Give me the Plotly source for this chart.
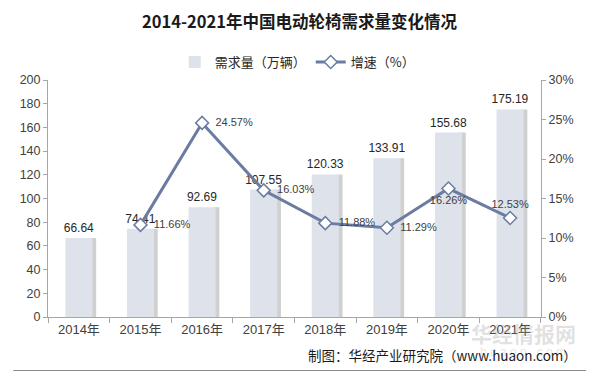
import plotly.graph_objects as go

years = ["2014年", "2015年", "2016年", "2017年", "2018年", "2019年", "2020年", "2021年"]
demand = [66.64, 74.41, 92.69, 107.55, 120.33, 133.91, 155.68, 175.19]
growth = [None, 11.66, 24.57, 16.03, 11.88, 11.29, 16.26, 12.53]
growth_pos = ["middle right", "middle right", "middle right", "middle right",
              "middle right", "middle right", "bottom center", "top center"]

# page body has an 8px margin; figure sized so it ends at the window edge
OFF = 8
W, H = 594 - OFF, 373 - OFF
L, R, T, B = 35, 53, 72, 56
pw, ph = W - L - R, H - T - B


def px(xw):
    return (xw - OFF - L) / pw


def py(yw):
    return (H - B - (yw - OFF)) / ph


def growth_label(g, pos):
    if g is None:
        return ""
    pad = "  " if pos == "middle right" else ""
    return f"{pad}{g:.2f}%"


fig = go.Figure()
bw = 0.44
# shadow
fig.add_trace(go.Bar(x=years, y=demand, width=0.1, offset=bw / 2 - 0.04,
                     marker=dict(color="rgba(150,150,150,0.45)", line=dict(width=0)),
                     hoverinfo="skip", showlegend=False))
fig.add_trace(go.Bar(x=years, y=demand, width=bw, offset=-bw / 2, name="需求量（万辆）",
                     marker=dict(color="#dee2eb", line=dict(width=0)),
                     text=[f"{v:.2f}" for v in demand], textposition="outside",
                     constraintext="none",
                     textfont=dict(size=12, color="#262626", family="Liberation Sans"),
                     cliponaxis=False))
fig.add_trace(go.Scatter(x=years, y=growth, yaxis="y2", name="增速（%）",
                         mode="lines+markers+text",
                         line=dict(color="#6a7ca1", width=3),
                         marker=dict(symbol="diamond", size=10, color="white",
                                     line=dict(color="#6a7ca1", width=1.5)),
                         text=[growth_label(g, p) for g, p in zip(growth, growth_pos)],
                         textposition=growth_pos,
                         textfont=dict(size=11, color="#404040", family="Liberation Sans"),
                         cliponaxis=False))

fig.update_layout(
    width=W, height=H,
    margin=dict(l=L, r=R, t=T, b=B),
    paper_bgcolor="white", plot_bgcolor="white",
    barmode="overlay",
    font=dict(family="Liberation Sans, Noto Sans CJK SC", color="#404040", size=12),
    title=dict(text="<b>2014-2021年中国电动轮椅需求量变化情况</b>", x=px(297), xref="paper",
               xanchor="center", y=1 - (22 - OFF) / H, yanchor="middle",
               font=dict(family="Noto Sans CJK SC", size=16.5, color="#1a1a1a")),
    legend=dict(orientation="h", x=px(171), xanchor="left", y=py(62), yanchor="middle",
                font=dict(family="Noto Sans CJK SC", size=13, color="#262626"),
                itemwidth=30, traceorder="normal", tracegroupgap=0),
    xaxis=dict(showline=True, linecolor="#a6a6a6", ticks="outside", tickson="boundaries",
               tickcolor="#a6a6a6", ticklen=5, showgrid=False,
               tickfont=dict(family="Liberation Sans, Noto Sans CJK SC", size=13, color="#404040")),
    yaxis=dict(range=[0, 200], dtick=20, showline=True, linecolor="#a6a6a6", ticks="outside",
               tickcolor="#a6a6a6", ticklen=4, showgrid=False, zeroline=False,
               tickfont=dict(size=12.5, color="#404040")),
    yaxis2=dict(range=[0, 30], dtick=5, overlaying="y", side="right", ticksuffix="%",
                showline=True, linecolor="#a6a6a6", ticks="outside", tickcolor="#a6a6a6",
                ticklen=4, showgrid=False, zeroline=False,
                tickfont=dict(size=12.5, color="#404040")),
)

# watermark
fig.add_annotation(text="<b>华经情报网</b>", xref="paper", yref="paper",
                   x=px(523), y=py(333), xanchor="center", yanchor="middle",
                   showarrow=False, font=dict(family="Noto Sans CJK SC", size=21, color="rgba(160,160,160,0.33)"))
fig.add_annotation(text="h u a o n . c o m", xref="paper", yref="paper",
                   x=px(523), y=py(352), xanchor="center", yanchor="middle",
                   showarrow=False, font=dict(family="Liberation Sans", size=12, color="rgba(170,170,170,0.3)"))
# source
fig.add_annotation(text="制图：华经产业研究院（www.huaon.com）", xref="paper", yref="paper",
                   x=px(579), y=py(355), xanchor="right", yanchor="middle",
                   showarrow=False, font=dict(family="Noto Sans CJK SC, Liberation Sans", size=13.5, color="#1a1a1a"))
# border (right and bottom edges visible in the window)
fig.add_shape(type="line", xref="paper", yref="paper",
              x0=px(591.5), x1=px(591.5), y0=py(370.5), y1=py(OFF),
              line=dict(color="#8c8c8c", width=1), layer="below")
fig.add_shape(type="line", xref="paper", yref="paper",
              x0=px(OFF), x1=px(591.5), y0=py(370.5), y1=py(370.5),
              line=dict(color="#8c8c8c", width=1), layer="below")

fig.write_html("out.html")
